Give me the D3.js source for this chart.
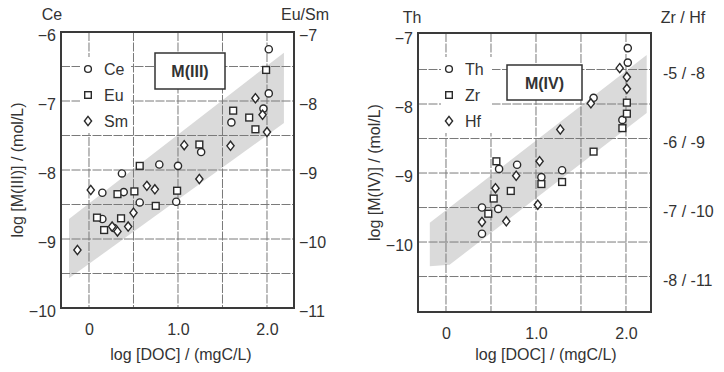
<!DOCTYPE html>
<html>
<head>
<meta charset="utf-8">
<script src="https://cdn.jsdelivr.net/npm/d3@7"></script>
<style>
  body { margin: 0; background: #fff; }
  svg text { font-family: "Liberation Sans", Arial, sans-serif; fill: #333; }
</style>
</head>
<body>
<svg id="chart" width="724" height="372"></svg>
<script>
// ---- data ----
// left panel: x = log DOC, Ce on left axis, Eu / Sm on right axis
var ceData = [[0.37,-8.05],[0.79,-7.92],[1.00,-7.94],[1.26,-7.74],[0.15,-8.33],[0.39,-8.32],
  [0.57,-8.47],[0.15,-8.71],[0.98,-8.46],[0.28,-8.84],[1.60,-7.31],[1.96,-7.11],[2.02,-6.89],[2.02,-6.25]];
var euData = [[0.57,-8.94],[0.32,-9.35],[0.51,-9.31],[0.75,-9.52],[0.09,-9.69],[0.36,-9.70],
  [0.17,-9.87],[0.99,-9.30],[1.24,-8.63],[1.62,-8.14],[1.80,-8.24],[1.87,-8.41],[1.99,-7.55]];
var smData = [[0.02,-9.29],[0.65,-9.23],[0.74,-9.28],[0.50,-9.62],[0.26,-9.82],[0.32,-9.89],
  [0.44,-9.82],[-0.13,-10.16],[1.24,-9.13],[1.07,-8.64],[1.59,-8.65],[1.87,-7.96],[1.95,-8.20],[2.00,-8.45]];
// right panel: Th on left axis, Zr / Hf on right axis
var thData = [[0.59,-8.94],[0.79,-8.88],[1.06,-9.06],[1.29,-8.96],[0.40,-9.50],[0.58,-9.52],
  [0.40,-9.88],[2.02,-7.19],[2.02,-7.40],[1.96,-8.23],[1.64,-7.91]];
var zrData = [[0.56,-6.33],[1.06,-6.66],[1.29,-6.63],[0.72,-6.76],[0.53,-6.87],[0.47,-7.09],
  [2.01,-5.48],[2.01,-5.64],[1.96,-5.85],[1.64,-6.19]];
var hfData = [[0.78,-9.54],[1.04,-9.33],[0.55,-9.72],[0.40,-10.21],[0.67,-10.20],[1.02,-9.96],
  [1.93,-7.98],[2.01,-8.11],[2.01,-8.28],[1.61,-8.49],[1.27,-8.87]];

// gray bands (x, value on the left axis)
var bandIII = [[-0.225,-8.71],[2.19,-6.30],[2.19,-7.32],[-0.225,-9.57]];
var bandIV = [[-0.18,-9.72],[2.23,-7.29],[2.23,-8.13],[0.04,-10.33],[-0.18,-10.35]];

var xTicks = [0, 1, 2];
var xGrid = [0, 0.5, 1, 1.5, 2];
var ceTicks = [-6, -7, -8, -9, -10];
var euTicks = [-7, -8, -9, -10, -11];
var gridIII = [-6.5, -7, -7.5, -8, -8.5, -9, -9.5];
var thTicks = [-7, -8, -9, -10];
var zrTicks = [-5, -6, -7, -8];
var gridIV = [-7.5, -8, -8.5, -9, -9.5, -10, -10.5];

var svg = d3.select("#chart");

var diamond = "M0,-4.6L3.6,0L0,4.6L-3.6,0Z";

function drawMarks(g, data, x, y, kind) {
    var sel = g.append("g").selectAll("path").data(data).enter();
    if (kind == "circle") {
        sel.append("circle")
            .attr("cx", function(d){ return x(d[0]); })
            .attr("cy", function(d){ return y(d[1]); })
            .attr("r", 3.6);
    } else if (kind == "square") {
        sel.append("rect")
            .attr("x", function(d){ return x(d[0]) - 3.4; })
            .attr("y", function(d){ return y(d[1]) - 3.4; })
            .attr("width", 6.8).attr("height", 6.8);
    } else {
        sel.append("path")
            .attr("d", diamond)
            .attr("transform", function(d){ return "translate(" + x(d[0]) + "," + y(d[1]) + ")"; });
    }
}

function panel(cfg) {
    var x = d3.scaleLinear().domain(cfg.xDomain).range(cfg.xRange);
    var y = d3.scaleLinear().domain(cfg.yDomain).range(cfg.yRange);
    var y2 = d3.scaleLinear().domain(cfg.y2Domain).range(cfg.yRange);
    var y3 = cfg.y3Domain ? d3.scaleLinear().domain(cfg.y3Domain).range(cfg.yRange) : y2;
    var x0 = cfg.xRange[0], x1 = cfg.xRange[1], yt = cfg.yRange[1], yb = cfg.yRange[0];
    var g = svg.append("g");

    // band
    g.append("path")
        .datum(cfg.band)
        .attr("d", d3.line().x(function(d){ return x(d[0]); }).y(function(d){ return y(d[1]); }).curve(d3.curveLinearClosed))
        .attr("fill", "#dadada");

    // grid
    g.selectAll(".gx").data(xGrid).enter().append("line")
        .attr("x1", function(d){ return x(d); }).attr("x2", function(d){ return x(d); })
        .attr("y1", yt).attr("y2", yb)
        .attr("stroke", "#7a7a7a").attr("stroke-width", 1).attr("stroke-dasharray", "9,1.5");
    g.selectAll(".gy").data(cfg.grid).enter().append("line")
        .attr("x1", x0).attr("x2", x1)
        .attr("y1", function(d){ return y(d); }).attr("y2", function(d){ return y(d); })
        .attr("stroke", "#7a7a7a").attr("stroke-width", 1).attr("stroke-dasharray", "9,1.5");

    // legend background
    var lg = cfg.legend;
    g.append("rect").attr("x", lg.x - 8).attr("y", lg.y - 12).attr("width", 51).attr("height", 76)
        .attr("fill", "#fff");

    // points
    var marks = g.append("g").attr("fill", "#fff").attr("stroke", "#2a2a2a").attr("stroke-width", 1.4);
    drawMarks(marks, cfg.series[0].data, x, y, "circle");
    drawMarks(marks, cfg.series[1].data, x, y2, "square");
    drawMarks(marks, cfg.series[2].data, x, y3, "diamond");

    // legend
    var kinds = ["circle", "square", "diamond"];
    var leg = g.append("g");
    cfg.series.forEach(function(s, i) {
        var cy = lg.y + i * 26;
        var m = leg.append("g").attr("fill", "#fff").attr("stroke", "#2a2a2a").attr("stroke-width", 1.4);
        if (kinds[i] == "circle") m.append("circle").attr("cx", lg.x).attr("cy", cy).attr("r", 3.4);
        else if (kinds[i] == "square") m.append("rect").attr("x", lg.x - 3.3).attr("y", cy - 3.3).attr("width", 6.6).attr("height", 6.6);
        else m.append("path").attr("d", diamond).attr("transform", "translate(" + lg.x + "," + cy + ")");
        leg.append("text").attr("x", lg.x + 16).attr("y", cy + 5.5).style("font-size", "16px").text(s.name);
    });

    // label box
    var b = cfg.box;
    g.append("rect").attr("x", b.x).attr("y", b.y).attr("width", b.w).attr("height", b.h)
        .attr("fill", "#fff").attr("stroke", "#333").attr("stroke-width", 1.5);
    g.append("text").attr("x", b.x + b.w / 2).attr("y", b.y + b.h / 2 + 6)
        .attr("text-anchor", "middle").style("font-size", "16px").style("font-weight", "bold")
        .text(cfg.title);

    // frame
    g.append("rect").attr("x", x0).attr("y", yt).attr("width", x1 - x0).attr("height", yb - yt)
        .attr("fill", "none").attr("stroke", "#3a3a3a").attr("stroke-width", 2);

    // axes
    var ax = g.append("g").attr("transform", "translate(0," + yb + ")")
        .call(d3.axisBottom(x).tickValues(xTicks).tickSize(0).tickPadding(16)
            .tickFormat(function(d){ return d == 0 ? "0" : d3.format(".1f")(d); }));
    var ay = g.append("g").attr("transform", "translate(" + x0 + ",0)")
        .call(d3.axisLeft(y).tickValues(cfg.yTicks).tickSize(0).tickPadding(5).tickFormat(d3.format("d")));
    var ay2 = g.append("g").attr("transform", "translate(" + x1 + ",0)")
        .call(d3.axisRight(y2).tickValues(cfg.y2Ticks).tickSize(0).tickPadding(cfg.y2Pad).tickFormat(cfg.y2Format));
    [ax, ay, ay2].forEach(function(a) {
        a.select(".domain").remove();
        a.selectAll("text").style("font-size", "16px").attr("fill", "#333")
            .style("font-family", "'Liberation Sans', Arial, sans-serif");
    });
    ay.selectAll("text").attr("dy", "0.55em");
    ay2.selectAll("text").attr("dy", "0.55em");

    // axis titles
    g.append("text").attr("x", cfg.xTitleX).attr("y", 360).attr("text-anchor", "middle")
        .style("font-size", "16px").text("log [DOC] / (mgC/L)");
    g.append("text").attr("transform", "translate(" + cfg.yTitleX + "," + ((yt + yb) / 2) + ") rotate(-90)")
        .attr("text-anchor", "middle").style("font-size", "16px").text(cfg.yTitle);
    g.append("text").attr("x", cfg.topLeft[1]).attr("y", cfg.topLeft[2]).attr("text-anchor", "middle")
        .style("font-size", "16px").text(cfg.topLeft[0]);
    g.append("text").attr("x", cfg.topRight[1]).attr("y", cfg.topRight[2]).attr("text-anchor", "middle")
        .style("font-size", "16px").text(cfg.topRight[0]);
}

panel({
    xDomain: [-0.3146, 2.3034], xRange: [61, 294],
    yDomain: [-10, -6], y2Domain: [-11, -7], yRange: [308, 32],
    yTicks: ceTicks, y2Ticks: euTicks, y2Pad: 5, y2Format: d3.format("d"),
    grid: gridIII, band: bandIII,
    series: [{name: "Ce", data: ceData}, {name: "Eu", data: euData}, {name: "Sm", data: smData}],
    legend: {x: 88, y: 69},
    box: {x: 155, y: 53, w: 70, h: 36}, title: "M(III)",
    xTitleX: 181, yTitleX: 23, yTitle: "log [M(III)] / (mol/L)",
    topLeft: ["Ce", 52, 20], topRight: ["Eu/Sm", 305, 20]
});

panel({
    xDomain: [-0.311, 2.278], xRange: [418, 651],
    yDomain: [-11.014, -6.971], y2Domain: [-8.514, -4.471], yRange: [312, 33],
    y3Domain: [-11.514, -7.471],
    yTicks: thTicks, y2Ticks: zrTicks, y2Pad: 12,
    y2Format: function(d){ return d + " / " + (d - 3); },
    grid: gridIV, band: bandIV,
    series: [{name: "Th", data: thData}, {name: "Zr", data: zrData}, {name: "Hf", data: hfData}],
    legend: {x: 449, y: 69},
    box: {x: 507, y: 65, w: 75, h: 35}, title: "M(IV)",
    xTitleX: 546, yTitleX: 380, yTitle: "log [M(IV)] / (mol/L)",
    topLeft: ["Th", 412, 23], topRight: ["Zr / Hf", 683, 23]
});
</script>
</body>
</html>
